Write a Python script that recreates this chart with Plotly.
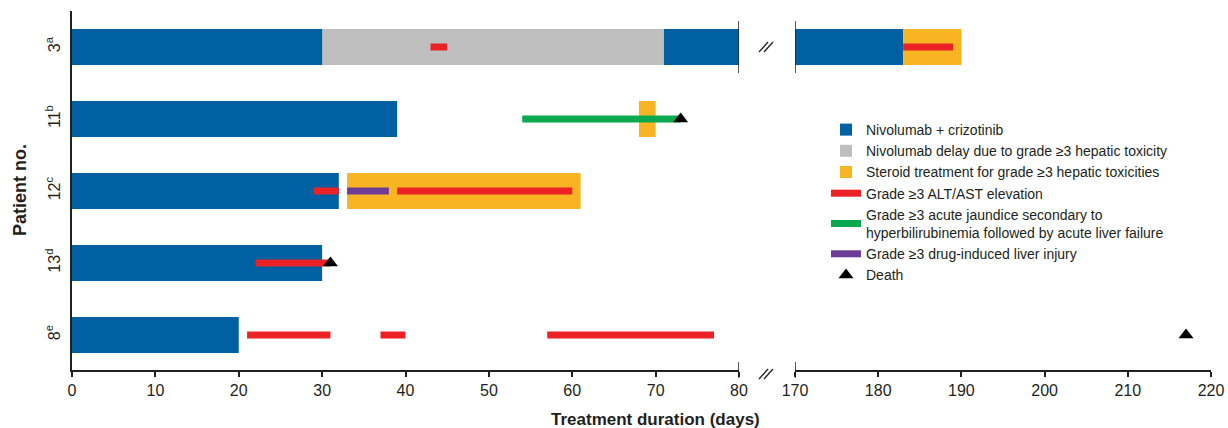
import plotly.graph_objects as go

# ---------------- data ----------------
patients = ["3<sup>a</sup>", "11<sup>b</sup>", "12<sup>c</sup>", "13<sup>d</sup>", "8<sup>e</sup>"]
treat_start = [0, 0, 0, 0, 0]
treat_end = [183, 39, 32, 30, 20]

delay_patient = ["3<sup>a</sup>"]
delay_start = [30]
delay_end = [71]

steroid_patient = ["3<sup>a</sup>", "11<sup>b</sup>", "12<sup>c</sup>"]
steroid_start = [183, 68, 33]
steroid_end = [190, 70, 61]

alt_patient = ["3<sup>a</sup>", "3<sup>a</sup>", "12<sup>c</sup>", "12<sup>c</sup>",
               "13<sup>d</sup>", "8<sup>e</sup>", "8<sup>e</sup>", "8<sup>e</sup>"]
alt_start = [43, 183, 29, 39, 22, 21, 37, 57]
alt_end = [45, 189, 32, 60, 31, 31, 40, 77]

jaundice_patient = ["11<sup>b</sup>"]
jaundice_start = [54]
jaundice_end = [73]

dili_patient = ["12<sup>c</sup>"]
dili_start = [33]
dili_end = [38]

death_patient = ["11<sup>b</sup>", "13<sup>d</sup>", "8<sup>e</sup>"]
death_day = [73, 31, 217]

left_ticks = [0, 10, 20, 30, 40, 50, 60, 70, 80]
right_ticks = [170, 180, 190, 200, 210, 220]

# ---------------- styles ----------------
BLUE = "#0060A1"
GRAY = "#BFBFBF"
ORANGE = "#F9B423"
RED = "#EC2227"
GREEN = "#0AA94F"
PURPLE = "#6E3C97"
AX = "#231F20"
FONT = "Arial, Liberation Sans, sans-serif"

ypos = {p: len(patients) - 1 - i for i, p in enumerate(patients)}

fig = go.Figure()
AXES = ["x", "x2"]


def add_bars(name, pats, starts, ends, color):
    for k, ax in enumerate(AXES):
        fig.add_trace(go.Bar(
            orientation="h",
            y=[ypos[p] for p in pats],
            base=starts,
            x=[e - s for s, e in zip(starts, ends)],
            width=0.5,
            marker=dict(color=color, line=dict(width=0)),
            name=name, legendgroup=name, showlegend=(k == 0),
            xaxis=ax, yaxis="y", hoverinfo="skip",
        ))


def add_lines(name, pats, starts, ends, color):
    xs, ys = [], []
    for p, s, e in zip(pats, starts, ends):
        xs += [s, e, None]
        ys += [ypos[p], ypos[p], None]
    for k, ax in enumerate(AXES):
        fig.add_trace(go.Scatter(
            x=xs, y=ys, mode="lines",
            line=dict(color=color, width=7),
            name=name, legendgroup=name, showlegend=(k == 0),
            xaxis=ax, yaxis="y", hoverinfo="skip",
        ))


add_bars("Nivolumab + crizotinib", patients, treat_start, treat_end, BLUE)
add_bars("Nivolumab delay due to grade ≥3 hepatic toxicity", delay_patient, delay_start, delay_end, GRAY)
add_bars("Steroid treatment for grade ≥3 hepatic toxicities", steroid_patient, steroid_start, steroid_end, ORANGE)
add_lines("Grade ≥3 ALT/AST elevation", alt_patient, alt_start, alt_end, RED)
add_lines("Grade ≥3 acute jaundice secondary to<br>hyperbilirubinemia followed by acute liver failure",
          jaundice_patient, jaundice_start, jaundice_end, GREEN)
add_lines("Grade ≥3 drug-induced liver injury", dili_patient, dili_start, dili_end, PURPLE)

for k, ax in enumerate(AXES):
    fig.add_trace(go.Scatter(
        x=death_day, y=[ypos[p] for p in death_patient], mode="markers",
        marker=dict(symbol="triangle-up", size=13, color="black"),
        name="Death", legendgroup="Death", showlegend=(k == 0),
        xaxis=ax, yaxis="y", hoverinfo="skip", cliponaxis=True,
    ))

W, H = 1228, 428
ML, MR, MT, MB = 72, 17, 11, 58
pw = W - ML - MR
ph = H - MT - MB


def px2x(px):
    return (px - ML) / pw


def py2y(py):
    return 1 - (py - MT) / ph


xaxis_common = dict(
    showline=True, linecolor=AX, linewidth=1.5,
    ticks="outside", ticklen=5, tickwidth=1.5, tickcolor=AX,
    showgrid=False, zeroline=False,
    tickfont=dict(family=FONT, size=16, color=AX),
    anchor="y", fixedrange=True, automargin=False,
)

fig.update_layout(
    width=W, height=H,
    margin=dict(l=ML, r=MR, t=MT, b=MB, autoexpand=False),
    paper_bgcolor="white", plot_bgcolor="white",
    barmode="overlay",
    font=dict(family=FONT, color=AX),
    xaxis=dict(domain=[0, px2x(739)], range=[0, 80], tickvals=left_ticks, **xaxis_common),
    xaxis2=dict(domain=[px2x(795), 1], range=[170, 220], tickvals=right_ticks, **xaxis_common),
    yaxis=dict(
        range=[-0.486, 4.5],
        tickvals=[ypos[p] for p in patients], ticktext=patients,
        tickangle=-90, tickfont=dict(family=FONT, size=16, color=AX),
        ticklabelstandoff=4,
        showline=True, linecolor=AX, linewidth=1.5,
        ticks="", showgrid=False, zeroline=False, fixedrange=True, automargin=False,
    ),
    legend=dict(
        x=px2x(826), y=py2y(114), xanchor="left", yanchor="top",
        font=dict(family=FONT, size=14, color=AX),
        bgcolor="rgba(0,0,0,0)", tracegroupgap=0,
    ),
    showlegend=True,
)

# axis titles
fig.add_annotation(text="<b>Patient no.</b>", xref="paper", yref="paper",
                   x=px2x(20), y=py2y(190), xanchor="center", yanchor="middle",
                   textangle=-90, showarrow=False,
                   font=dict(family=FONT, size=18, color=AX))
fig.add_annotation(text="<b>Treatment duration (days)</b>", xref="paper", yref="paper",
                   x=px2x(655), y=py2y(419), xanchor="center", yanchor="middle",
                   showarrow=False,
                   font=dict(family=FONT, size=17, color=AX))

# break decorations
row3 = ypos["3<sup>a</sup>"]
for xv, ax in [(80, "x"), (170, "x2")]:
    fig.add_shape(type="line", xref=ax, yref="y", x0=xv, x1=xv, y0=row3 - 0.36, y1=row3 + 0.36,
                  line=dict(color=AX, width=1.5), layer="above")
    fig.add_shape(type="line", xref=ax, yref="paper", x0=xv, x1=xv, y0=-8 / ph, y1=8 / ph,
                  line=dict(color=AX, width=1.5), layer="above")

for cy in (47, 374):
    for off in (-2.5, 2.5):
        cx = 766 + off
        fig.add_shape(type="line", xref="paper", yref="paper",
                      x0=px2x(cx - 4.5), x1=px2x(cx + 4.5), y0=py2y(cy + 5), y1=py2y(cy - 5),
                      line=dict(color=AX, width=1.3))

fig.write_html("out.html", post_script="document.body.style.margin='0px';",
               config={"displayModeBar": False})
